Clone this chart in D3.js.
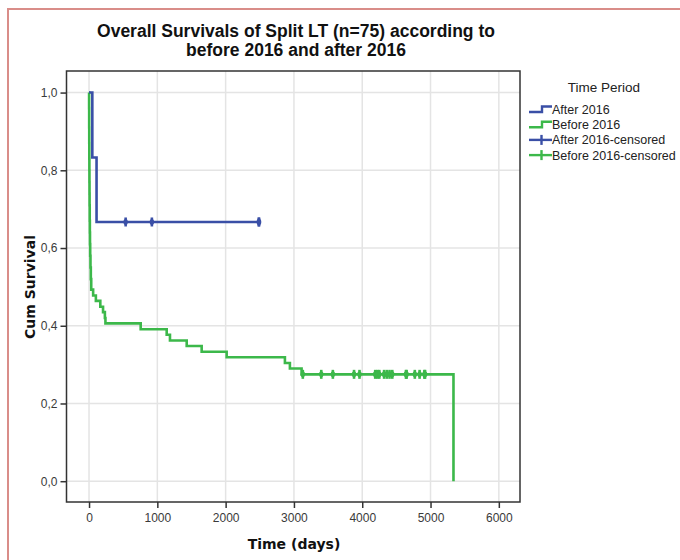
<!DOCTYPE html>
<html>
<head>
<meta charset="utf-8">
<script src="https://cdn.jsdelivr.net/npm/d3@7"></script>
<style>
  body { margin: 0; background: #fff; }
  svg { display: block; }
</style>
</head>
<body>
<div id="chart"></div>
<script>
// survival step points (time in days, cum survival)
const afterTimes = [0, 48, 110, 2490];
const afterSurv = [1.0, 0.833, 0.667, 0.667];
const afterCensored = [536, 920, 2485, 2490];

const beforeTimes = [0, 1, 2, 3, 4, 5, 6, 7, 8, 10, 12, 14, 17, 21, 26, 32, 60, 100, 165, 205, 232, 240,
  756, 1137, 1185, 1430, 1649, 2015, 2868, 2941, 3112, 5336];
const beforeSurv = [1.0, 0.96, 0.91, 0.87, 0.83, 0.80, 0.77, 0.74, 0.71, 0.67, 0.64, 0.61, 0.58, 0.55, 0.52, 0.493,
  0.478, 0.464, 0.449, 0.435, 0.42, 0.406, 0.391, 0.377, 0.362, 0.348, 0.333, 0.319, 0.304, 0.29, 0.275, 0.0];
const beforeCensored = [3130, 3400, 3570, 3880, 3960, 4190, 4220, 4250, 4320, 4360, 4400, 4440,
  4640, 4650, 4770, 4840, 4910, 4920];
const beforeCensorSurv = 0.275;

const xTicks = [0, 1000, 2000, 3000, 4000, 5000, 6000];
const yTicks = [0, 0.2, 0.4, 0.6, 0.8, 1.0];
const legendLabels = ["After 2016", "Before 2016", "After 2016-censored", "Before 2016-censored"];

const blue = "#3a4fa6";
const green = "#3cb84a";

const width = 680, height = 560;
const plotLeft = 66.5, plotRight = 520, plotTop = 71, plotBottom = 502;

const svg = d3.select("#chart").append("svg")
  .attr("width", width)
  .attr("height", height);

// outer salmon border
svg.append("rect")
  .attr("x", 8).attr("y", 9)
  .attr("width", 700).attr("height", 600)
  .attr("fill", "none")
  .attr("stroke", "#d98d89")
  .attr("stroke-width", 2);

const x = d3.scaleLinear().domain([-330, 6310]).range([plotLeft, plotRight]);
const y = d3.scaleLinear().domain([-0.0535, 1.0555]).range([plotBottom, plotTop]);

// gridlines
svg.append("g").selectAll("line")
  .data(xTicks).enter().append("line")
  .attr("x1", d => x(d)).attr("x2", d => x(d))
  .attr("y1", plotTop).attr("y2", plotBottom)
  .attr("stroke", "#e4e4e4").attr("stroke-width", 1.5);
svg.append("g").selectAll("line")
  .data(yTicks).enter().append("line")
  .attr("x1", plotLeft).attr("x2", plotRight)
  .attr("y1", d => y(d)).attr("y2", d => y(d))
  .attr("stroke", "#e4e4e4").attr("stroke-width", 1.5);

// axes
const xAxis = svg.append("g")
  .attr("transform", `translate(0,${plotBottom})`)
  .call(d3.axisBottom(x).tickValues(xTicks).tickSize(6).tickPadding(5).tickFormat(d3.format("d")));
const yAxis = svg.append("g")
  .attr("transform", `translate(${plotLeft},0)`)
  .call(d3.axisLeft(y).tickValues(yTicks).tickSize(6).tickPadding(3)
    .tickFormat(d => d3.format(".1f")(d).replace(".", ",")));
[xAxis, yAxis].forEach(g => {
  g.select(".domain").remove();
  g.selectAll(".tick line").attr("stroke", "#333").attr("stroke-width", 1.5);
  g.selectAll(".tick text")
    .attr("fill", "#3a3a3a")
    .style("font-family", "'Liberation Sans', Arial, sans-serif")
    .style("font-size", "12px");
});

// plot frame
svg.append("rect")
  .attr("x", plotLeft).attr("y", plotTop)
  .attr("width", plotRight - plotLeft).attr("height", plotBottom - plotTop)
  .attr("fill", "none")
  .attr("stroke", "#333")
  .attr("stroke-width", 1.5);

const line = d3.line()
  .x(d => x(d[0]))
  .y(d => y(d[1]))
  .curve(d3.curveStepAfter);

const curves = [
  { times: beforeTimes, surv: beforeSurv, color: green },
  { times: afterTimes, surv: afterSurv, color: blue }
];

svg.append("g").selectAll("path")
  .data(curves).enter().append("path")
  .attr("d", d => line(d.times.map((t, i) => [t, d.surv[i]])))
  .attr("fill", "none")
  .attr("stroke", d => d.color)
  .attr("stroke-width", 2.6);

// censored marks
const censorMarks = afterCensored.map(t => ({ t, s: afterSurv[afterSurv.length - 1], color: blue }))
  .concat(beforeCensored.map(t => ({ t, s: beforeCensorSurv, color: green })));

const marks = svg.append("g").selectAll("g")
  .data(censorMarks).enter().append("g")
  .attr("transform", d => `translate(${x(d.t)},${y(d.s)})`);
marks.append("line")
  .attr("y1", -4.5).attr("y2", 4.5)
  .attr("stroke", d => d.color)
  .attr("stroke-width", 2.6);
marks.append("ellipse")
  .attr("rx", 2.2).attr("ry", 3)
  .attr("fill", d => d.color);

// titles
const title = svg.append("text")
  .attr("text-anchor", "middle")
  .style("font-family", "'Liberation Sans', Arial, sans-serif")
  .style("font-size", "17.5px").style("font-weight", "bold")
  .attr("fill", "#111");
title.append("tspan").attr("x", 296).attr("y", 37).text("Overall Survivals of Split LT (n=75) according to");
title.append("tspan").attr("x", 296).attr("y", 55.5).text("before 2016 and after 2016");

svg.append("text")
  .attr("x", 294).attr("y", 549)
  .attr("text-anchor", "middle")
  .style("font-family", "'DejaVu Sans', sans-serif")
  .style("font-size", "14px").style("font-weight", "bold")
  .attr("fill", "#111")
  .text("Time (days)");

svg.append("text")
  .attr("transform", "translate(35,287) rotate(-90)")
  .attr("text-anchor", "middle")
  .style("font-family", "'DejaVu Sans', sans-serif")
  .style("font-size", "14px").style("font-weight", "bold")
  .attr("fill", "#111")
  .text("Cum Survival");

// legend
const legend = svg.append("g").attr("transform", "translate(529,0)");
legend.append("text")
  .attr("x", 75).attr("y", 92)
  .attr("text-anchor", "middle")
  .style("font-family", "'Liberation Sans', Arial, sans-serif")
  .style("font-size", "13.5px")
  .attr("fill", "#222")
  .text("Time Period");

const legendColors = [blue, green, blue, green];
const rows = legend.selectAll("g.row")
  .data(legendLabels).enter().append("g")
  .attr("class", "row")
  .attr("transform", (d, i) => `translate(0,${109.5 + i * 15.2})`);
rows.each(function (d, i) {
  const g = d3.select(this);
  const c = legendColors[i];
  if (i < 2) {
    g.append("path")
      .attr("d", "M0,2.5 H13 V-3 H23")
      .attr("fill", "none").attr("stroke", c).attr("stroke-width", 2.4);
  } else {
    g.append("line").attr("x1", 0).attr("x2", 23).attr("y1", 0).attr("y2", 0)
      .attr("stroke", c).attr("stroke-width", 2.4);
    g.append("line").attr("x1", 12.5).attr("x2", 12.5).attr("y1", -5).attr("y2", 5)
      .attr("stroke", c).attr("stroke-width", 2.4);
  }
  g.append("text")
    .attr("x", 23).attr("y", 4.5)
    .style("font-family", "'Liberation Sans', Arial, sans-serif")
    .style("font-size", "12.5px")
    .attr("fill", "#222")
    .text(d);
});
</script>
</body>
</html>
